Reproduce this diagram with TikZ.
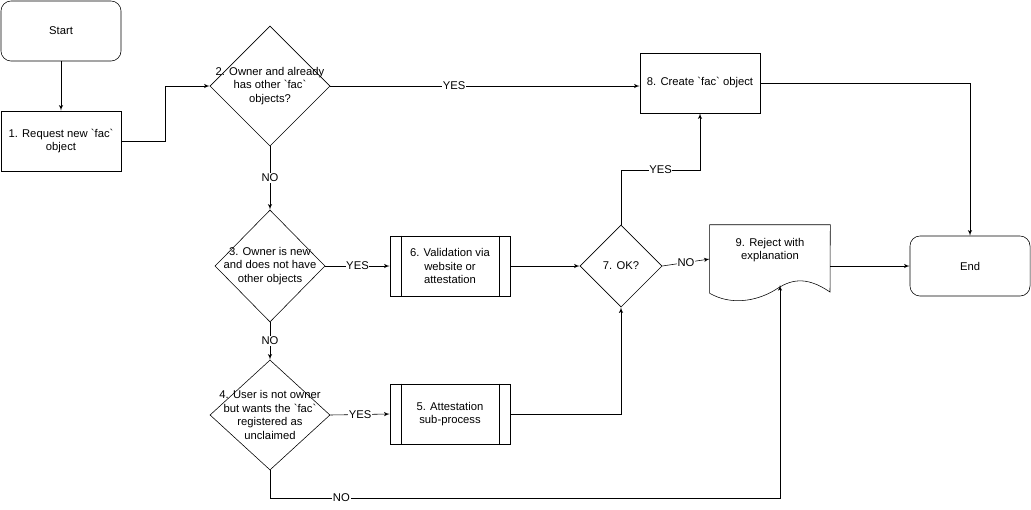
\documentclass[tikz,border=0pt]{standalone}
\usepackage{fontspec}
\setmainfont{Liberation Sans}[Ligatures=TeXOff]
\usetikzlibrary{shapes,arrows}
\tikzset{
  blk/.style={rectangle, draw, minimum width=3cm, minimum height=1.5cm, align=center, inner sep=1pt},
  term/.style={blk, rounded corners=0.25cm},
  dia/.style={diamond, draw, inner sep=0pt},
  lbl/.style={fill=white, inner sep=0.5pt},
  line/.style={draw, -latex'}
}
\begin{document}
\begin{tikzpicture}[x=0.025cm, y=-0.025cm, font=\fontsize{8}{9.6}\selectfont]
	\useasboundingbox (0,0) rectangle (1031,509);
	\node[term](start) at (61,31){Start};
	\node[blk](b1) at (61,141){1. Request new `fac`\\object};
	\node[dia, minimum width=3cm, minimum height=3cm, label={[align=center]center:2. Owner and already\\has other `fac`\\objects?}](q2) at (270,86){};
	\node[blk](b8) at (700,83){8. Create `fac` object};
	\node[term](end) at (970,266){End};
	\node[dia, minimum width=2.75cm, minimum height=2.8cm, label={[align=center]center:3. Owner is new\\and does not have\\other objects}](q3) at (270,266){};
	\node[blk](b6) at (450,266){6. Validation via\\website or\\attestation};
	\node[dia, minimum width=2.05cm, minimum height=2.05cm, label={center:7. OK?}](q7) at (621,266){};
	\node[dia, minimum width=3cm, minimum height=2.75cm, label={[align=center]center:4. User is not owner\\but wants the `fac`\\registered as\\unclaimed}](q4) at (270,415){};
	\node[blk](b5) at (450,414){5. Attestation\\sub-process};
	% document shape
	\node[rectangle, align=center, minimum width=3cm, minimum height=1.7cm](b9) at (770,259){};
	\node[align=center, anchor=north](t9) at (770,233){9. Reject with\\explanation};
	\path[draw](b9.south west) -- (b9.north west) -- (b9.north east) -- (830,292)
	  .. controls (805,275) and (790,280) .. (775,290)
	  .. controls (755,302) and (730,305) .. (b9.south west);
	\coordinate (w9) at (780,285);
	\foreach \b in {b6,b5}{
	  \draw ([xshift=8]\b.north west) -- ([xshift=8]\b.south west);
	  \draw ([xshift=-8]\b.north east) -- ([xshift=-8]\b.south east);
	}
	\path[line](start)--(b1);
	\path[line](b1.east)--(165,141)--(165,86)--(q2.west);
	\path[line](q2.east)--node[lbl, pos=0.4]{YES}(b8.west|-q2.east);
	\path[line](b8.east)--(end.north|-b8.east)--(end.north);
	\path[line](q2.south)--node[lbl]{NO}(q3.north);
	\path[line](q3.east)--node[lbl]{YES}(b6.west);
	\path[line](b6.east)--(q7.west);
	\path[line](q7.north)--(621,170)--node[lbl, pos=0.5]{YES}(700,170)--(b8.south);
	\path[line](q7.east)--node[lbl]{NO}(b9.west);
	\path[line](b9.east|-end.west)--(end.west);
	\path[line](q3.south)--node[lbl]{NO}(q4.north);
	\path[line](q4.east)--node[lbl]{YES}(b5.west);
	\path[line](b5.east)--(q7.south|-b5.east)--(q7.south);
	\path[line](q4.south)--(270,498)--node[lbl, pos=0.14]{NO}(780,498)--(w9);
\end{tikzpicture}
\end{document}
